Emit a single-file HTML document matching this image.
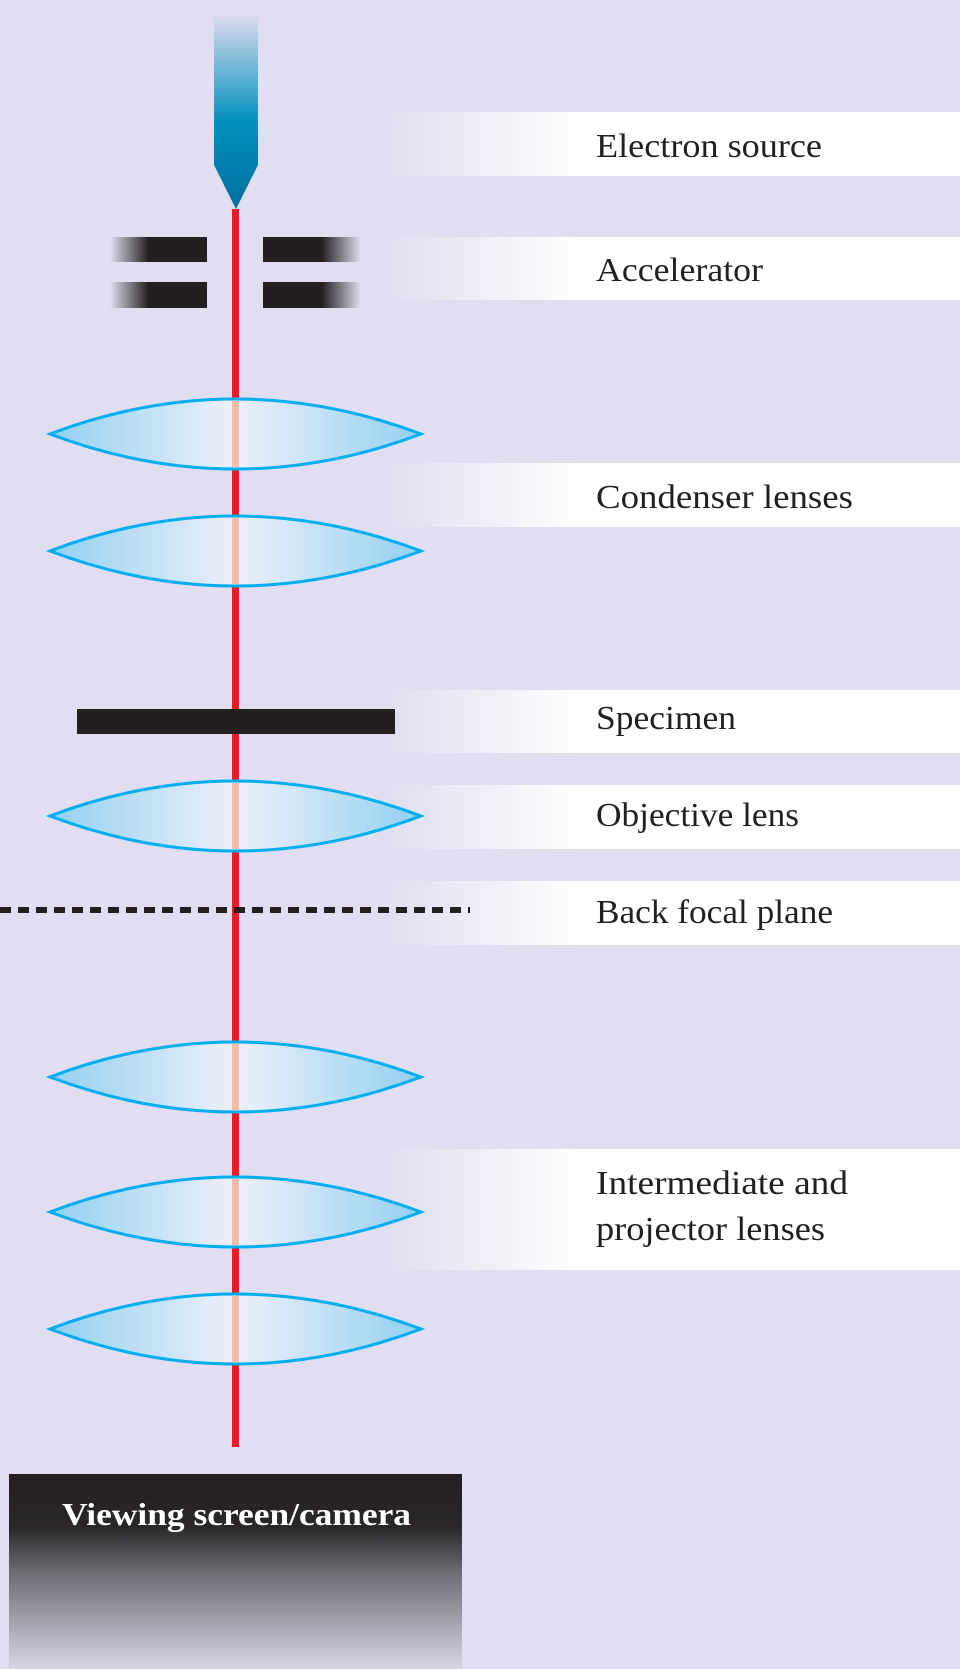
<!DOCTYPE html>
<html><head><meta charset="utf-8"><style>
html,body{margin:0;padding:0}
body{width:960px;height:1669px;overflow:hidden;background:#e0def0}
svg{display:block}
text{font-family:"Liberation Serif",serif}
</style></head><body>
<svg width="960" height="1669" viewBox="0 0 960 1669" xmlns="http://www.w3.org/2000/svg">
<defs>
<linearGradient id="band" x1="0" x2="1" y1="0" y2="0">
<stop offset="0" stop-color="#e0def0"/>
<stop offset="0.33" stop-color="#ffffff"/>
<stop offset="1" stop-color="#ffffff"/>
</linearGradient>
<linearGradient id="gun" x1="0" x2="0" y1="0" y2="1">
<stop offset="0" stop-color="#dcdcee"/>
<stop offset="0.55" stop-color="#0090bd"/>
<stop offset="1" stop-color="#00709e"/>
</linearGradient>
<linearGradient id="lens" x1="0" x2="1" y1="0" y2="0">
<stop offset="0" stop-color="#92d0f0"/>
<stop offset="0.5" stop-color="#eef0fa"/>
<stop offset="1" stop-color="#92d0f0"/>
</linearGradient>
<linearGradient id="accL" x1="0" x2="1">
<stop offset="0" stop-color="#231f20" stop-opacity="0"/>
<stop offset="0.4" stop-color="#231f20"/>
<stop offset="1" stop-color="#231f20"/>
</linearGradient>
<linearGradient id="accR" x1="1" x2="0">
<stop offset="0" stop-color="#231f20" stop-opacity="0"/>
<stop offset="0.4" stop-color="#231f20"/>
<stop offset="1" stop-color="#231f20"/>
</linearGradient>
<linearGradient id="scr" x1="0" x2="0" y1="0" y2="1">
<stop offset="0" stop-color="#231f20"/>
<stop offset="0.27" stop-color="#2a2729"/>
<stop offset="0.5" stop-color="#6c6b72"/>
<stop offset="1" stop-color="#d8d6e6"/>
</linearGradient>
<g id="lensShape">
<path d="M50 0 Q235 -70 421 0 Q235 70 50 0 Z" fill="url(#lens)" stroke="#00aeef" stroke-width="3"/>
<rect x="232" y="-33" width="7" height="66" fill="#f6bca6"/>
</g>
</defs>
<rect width="960" height="1669" fill="#e0def0"/>
<rect x="390" y="112" width="570" height="64" fill="url(#band)"/>
<rect x="390" y="237" width="570" height="63" fill="url(#band)"/>
<rect x="390" y="463" width="570" height="64" fill="url(#band)"/>
<rect x="390" y="690" width="570" height="63" fill="url(#band)"/>
<rect x="390" y="785" width="570" height="64" fill="url(#band)"/>
<rect x="390" y="881" width="570" height="64" fill="url(#band)"/>
<rect x="390" y="1149" width="570" height="121" fill="url(#band)"/>
<rect x="232" y="209" width="7" height="1238" fill="#ed1c24"/>
<path d="M214 16 H258 V165 L236 209 L214 165 Z" fill="url(#gun)"/>
<rect x="110" y="237" width="97" height="25" fill="url(#accL)"/>
<rect x="110" y="282" width="97" height="26" fill="url(#accL)"/>
<rect x="263" y="237" width="98" height="25" fill="url(#accR)"/>
<rect x="263" y="282" width="98" height="26" fill="url(#accR)"/>
<use href="#lensShape" transform="translate(0,434)"/>
<use href="#lensShape" transform="translate(0,551)"/>
<use href="#lensShape" transform="translate(0,816)"/>
<use href="#lensShape" transform="translate(0,1077)"/>
<use href="#lensShape" transform="translate(0,1212)"/>
<use href="#lensShape" transform="translate(0,1329)"/>
<rect x="77" y="709" width="318" height="25" fill="#231f20"/>
<line x1="0" y1="910" x2="470" y2="910" stroke="#231f20" stroke-width="6" stroke-dasharray="11 7"/>
<g font-size="34" fill="#231f20" lengthAdjust="spacingAndGlyphs">
<text x="596" y="157" textLength="226" lengthAdjust="spacingAndGlyphs">Electron source</text>
<text x="596" y="281" textLength="167" lengthAdjust="spacingAndGlyphs">Accelerator</text>
<text x="596" y="508" textLength="257" lengthAdjust="spacingAndGlyphs">Condenser lenses</text>
<text x="596" y="729" textLength="140" lengthAdjust="spacingAndGlyphs">Specimen</text>
<text x="596" y="826" textLength="203" lengthAdjust="spacingAndGlyphs">Objective lens</text>
<text x="596" y="923" textLength="237" lengthAdjust="spacingAndGlyphs">Back focal plane</text>
<text x="596" y="1194" textLength="252" lengthAdjust="spacingAndGlyphs">Intermediate and</text>
<text x="596" y="1240" textLength="229" lengthAdjust="spacingAndGlyphs">projector lenses</text>
</g>
<rect x="9" y="1474" width="453" height="195" fill="url(#scr)"/>
<text x="62" y="1525" font-size="32" font-weight="bold" fill="#ffffff" textLength="349" lengthAdjust="spacingAndGlyphs">Viewing screen/camera</text>
</svg>
</body></html>
